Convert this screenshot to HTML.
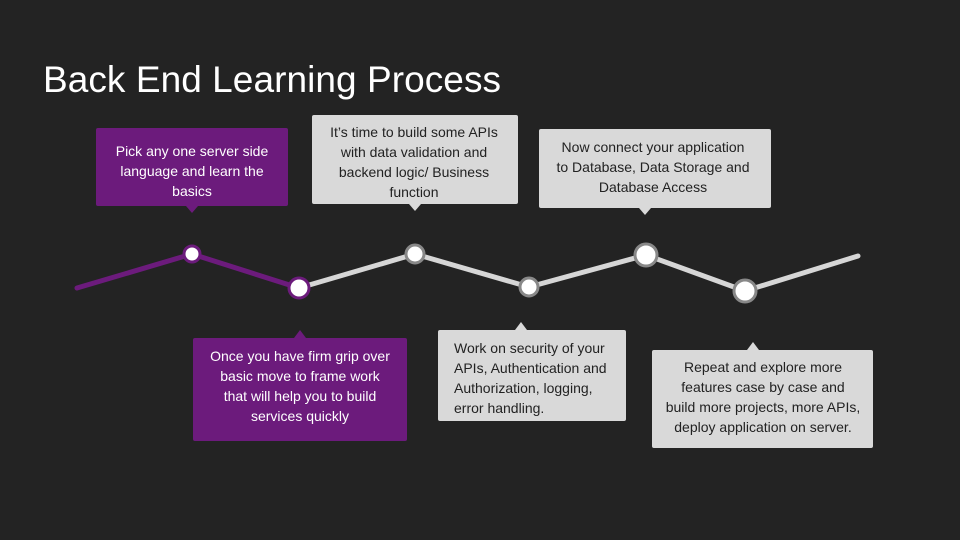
<!DOCTYPE html>
<html><head><style>
html,body{margin:0;padding:0;background:#232323;}
svg{display:block}
text{font-family:"Liberation Sans",sans-serif;font-size:14px;}
</style></head><body>
<svg width="960" height="540" viewBox="0 0 960 540">
<rect width="960" height="540" fill="#232323"/>
<text x="43" y="92" fill="#fff" style="font-size:37px" textLength="458">Back End Learning Process</text>

<polyline points="299,288 415,254 529,287 646,255 745,291 858,256" fill="none" stroke="#d6d6d6" stroke-width="5" stroke-linecap="round" stroke-linejoin="round"/>
<polyline points="77,288 192,254 299,288" fill="none" stroke="#6c1b7c" stroke-width="5" stroke-linecap="round" stroke-linejoin="round"/>

<circle cx="192" cy="254" r="8" fill="#fff" stroke="#6c1b7c" stroke-width="3"/>
<circle cx="299" cy="288" r="10" fill="#fff" stroke="#6c1b7c" stroke-width="3"/>
<circle cx="415" cy="254" r="9" fill="#fff" stroke="#888" stroke-width="3"/>
<circle cx="529" cy="287" r="9" fill="#fff" stroke="#888" stroke-width="3"/>
<circle cx="646" cy="255" r="11" fill="#fff" stroke="#888" stroke-width="3"/>
<circle cx="745" cy="291" r="11" fill="#fff" stroke="#888" stroke-width="3"/>

<g fill="#6c1b7c">
<rect x="96" y="128" width="192" height="78" rx="2"/>
<polygon points="186,206 198,206 192,213"/>
<rect x="193" y="338" width="214" height="103" rx="2"/>
<polygon points="294,338 306,338 300,330"/>
</g>
<g fill="#d9d9d9">
<rect x="312" y="115" width="206" height="89" rx="2"/>
<polygon points="409,204 421,204 415,211"/>
<rect x="539" y="129" width="232" height="79" rx="2"/>
<polygon points="639,208 651,208 645,215"/>
<rect x="438" y="330" width="188" height="91" rx="2"/>
<polygon points="515,330 527,330 521,322"/>
<rect x="652" y="350" width="221" height="98" rx="2"/>
<polygon points="747,350 759,350 753,342"/>
</g>

<g fill="#fff" text-anchor="middle">
<text x="192" y="156">Pick any one server side</text>
<text x="192" y="176">language and learn the</text>
<text x="192" y="196">basics</text>
<text x="300" y="361">Once you have firm grip over</text>
<text x="300" y="381">basic move to frame work</text>
<text x="300" y="401">that will help you to build</text>
<text x="300" y="421">services quickly</text>
</g>
<g fill="#222" text-anchor="middle">
<text x="414" y="137">It’s time to build some APIs</text>
<text x="414" y="157">with data validation and</text>
<text x="414" y="177">backend logic/ Business</text>
<text x="414" y="197">function</text>
<text x="653" y="152">Now connect your application</text>
<text x="653" y="172">to Database, Data Storage and</text>
<text x="653" y="192">Database Access</text>
<text x="763" y="372">Repeat and explore more</text>
<text x="763" y="392">features case by case and</text>
<text x="763" y="412">build more projects, more APIs,</text>
<text x="763" y="432">deploy application on server.</text>
</g>
<g fill="#222">
<text x="454" y="353">Work on security of your</text>
<text x="454" y="373">APIs, Authentication and</text>
<text x="454" y="393">Authorization, logging,</text>
<text x="454" y="413">error handling.</text>
</g>
</svg>
</body></html>
